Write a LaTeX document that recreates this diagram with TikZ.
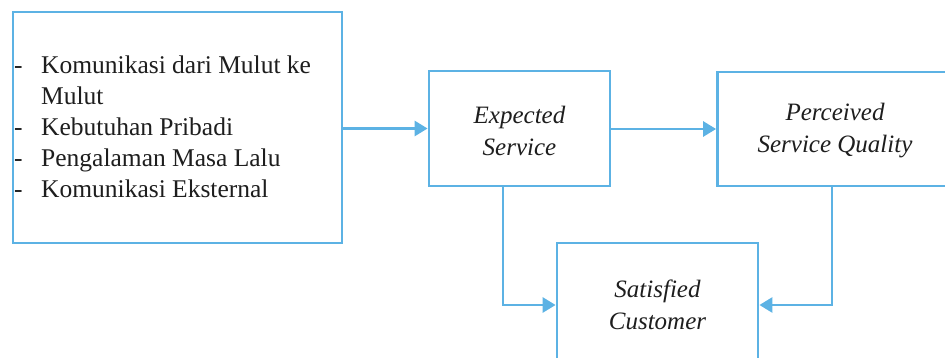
\documentclass[tikz,border=0pt]{standalone}
\usepackage{fontspec}
\setmainfont{Liberation Serif}
\usetikzlibrary{arrows.meta}
\definecolor{linkblue}{RGB}{92,178,228}
\definecolor{inkgray}{RGB}{30,30,30}
\tikzset{
  box/.style={draw=linkblue, line width=2.8pt, fill=white, inner sep=0pt},
  label/.style={text=inkgray, font=\fontsize{25}{32}\selectfont\itshape, align=center},
  link/.style={draw=linkblue, line width=2.8pt, -{Triangle[length=13pt,width=15pt]}},
}
\newcommand{\itemdash}{\hbox to 27pt{-\hfil}}
\begin{document}
\begin{tikzpicture}[x=1pt,y=-1pt]
  \useasboundingbox (0,0) rectangle (945,358);
  \clip (0,0) rectangle (945,358);
  % boxes
  \node[box, minimum width=329pt, minimum height=231pt] (src) at (177.5,127.5) {};
  \node[box, minimum width=181pt, minimum height=115pt] (exp) at (519.5,128.5) {};
  \node[box, minimum width=235pt, minimum height=114pt] (perc) at (835,129) {};
  \node[box, minimum width=201pt, minimum height=124pt] (sat) at (657.5,305) {};
  % texts
  \node[text=inkgray, font=\fontsize{25.5}{31}\selectfont, align=left, anchor=north west, inner sep=0pt]
    (srctext) at (14,56)
    {\itemdash Komunikasi dari Mulut ke\\
     \hbox to 27pt{\hfil}Mulut\\
     \itemdash Kebutuhan Pribadi\\
     \itemdash Pengalaman Masa Lalu\\
     \itemdash Komunikasi Eksternal};
  \node[label] (exptext) at (519.5,131) {Expected\\Service};
  \node[label] (perctext) at (835,131) {Perceived\\Service Quality};
  \node[label] (sattext) at (657.5,305) {Satisfied\\Customer};
  % connectors
  \draw[link] (src.east |- exp.west) -- (exp.west);
  \draw[link] (exp.east |- perc.west) -- (perc.west);
  \draw[link] ([xshift=-16.5pt]exp.south) |- (sat.west);
  \draw[link] ([xshift=-3pt]perc.south) |- (sat.east);
\end{tikzpicture}
\end{document}
